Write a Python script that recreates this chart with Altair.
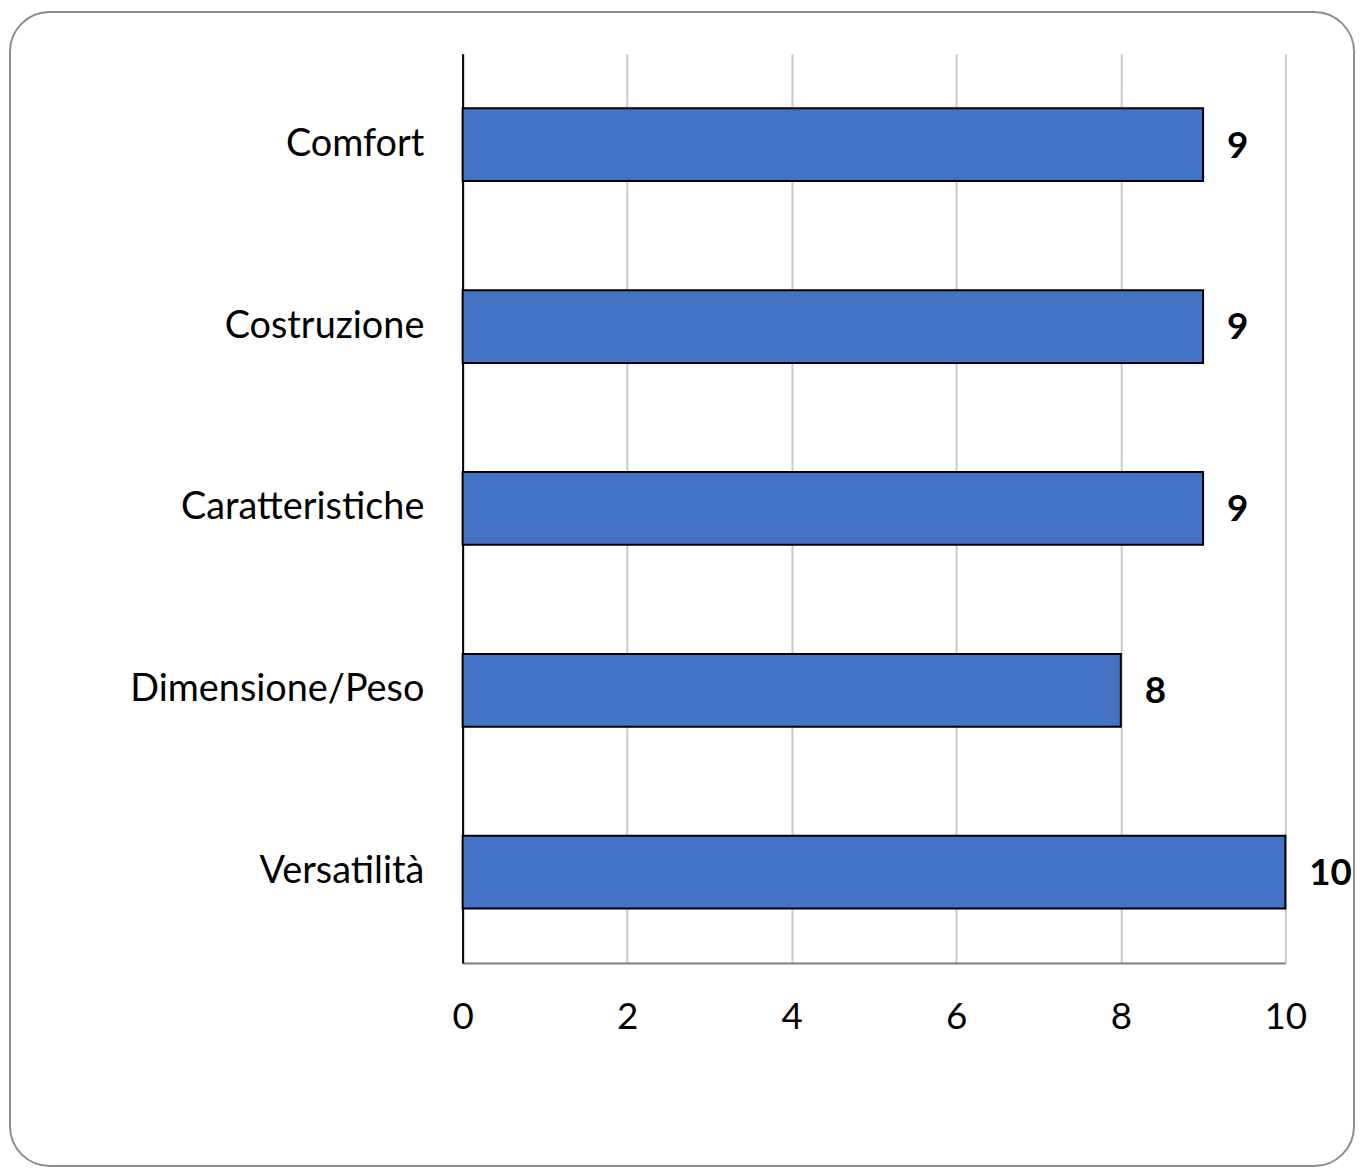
import altair as alt
import pandas as pd

categories = ["Comfort", "Costruzione", "Caratteristiche", "Dimensione/Peso", "Versatilità"]
values = [9, 9, 9, 8, 10]
x_ticks = [0, 2, 4, 6, 8, 10]

df = pd.DataFrame({"cat": categories, "val": values})
FONT = "Lato"

y_enc = alt.Y("cat:N", sort=categories, title=None,
              scale=alt.Scale(paddingInner=0.6, paddingOuter=0.3),
              axis=alt.Axis(labelFontSize=38, labelFont=FONT, labelColor="#000000",
                            labelPadding=39, labelLimit=0, ticks=False,
                            domainColor="#000000", domainWidth=2, grid=False))
x_enc = alt.X("val:Q", title=None,
              scale=alt.Scale(domain=[0, 10], nice=False),
              axis=alt.Axis(values=x_ticks, format="d", labelFlush=False,
                            labelFontSize=37, labelFont=FONT,
                            labelColor="#000000", labelPadding=37, ticks=False,
                            domainColor="#7f7f7f", domainWidth=2,
                            grid=True, gridColor="#c9c9c9", gridWidth=2))

bars = alt.Chart(df).mark_bar(color="#4472C4", stroke="#000000", strokeWidth=2).encode(
    x=x_enc, y=y_enc)

labels = alt.Chart(df).mark_text(align="left", baseline="middle", dx=24, dy=2,
                                 fontSize=37, fontWeight="bold", font=FONT,
                                 color="#000000").encode(
    x=alt.X("val:Q"), y=alt.Y("cat:N", sort=categories), text="val:Q")

frame = alt.Chart(pd.DataFrame({"a": [0]})).mark_rect(
    fill=None, stroke="#8c8c8c", strokeWidth=2, cornerRadius=40).encode(
    x=alt.value(-455), x2=alt.value(896), y=alt.value(-42), y2=alt.value(1118))

chart = alt.layer(frame, bars, labels).properties(
    width=827, height=914,
    autosize=alt.AutoSizeParams(type="none"),
    padding={"left": 457, "top": 43, "right": 72, "bottom": 207},
).configure_view(stroke=None)

chart.save("out.html", embed_options={"renderer": "svg", "actions": False})
